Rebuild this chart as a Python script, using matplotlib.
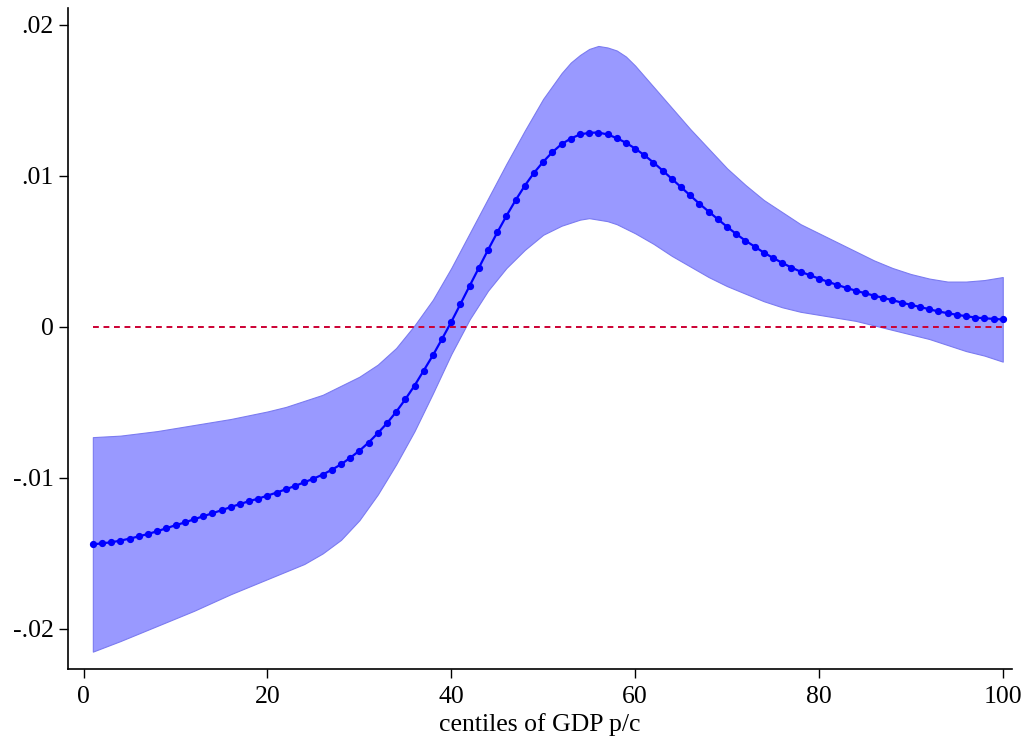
import matplotlib
matplotlib.use("Agg")
import matplotlib.pyplot as plt
import numpy as np

# marginal effect by GDP p/c centile
centiles = np.arange(1, 101)
effect = [
    -0.01440, -0.01433, -0.01426, -0.01415, -0.01402, -0.01387, -0.01371, -0.01353, -0.01333, -0.01313,
    -0.01295, -0.01274, -0.01254, -0.01234, -0.01214, -0.01193, -0.01173, -0.01154, -0.01137, -0.01117,
    -0.01097, -0.01075, -0.01053, -0.01029, -0.01005, -0.00978, -0.00946, -0.00910, -0.00867, -0.00820,
    -0.00766, -0.00704, -0.00638, -0.00563, -0.00479, -0.00389, -0.00289, -0.00188, -0.00079, 0.00033,
    0.00152, 0.00272, 0.00391, 0.00510, 0.00625, 0.00735, 0.00839, 0.00935, 0.01020, 0.01093,
    0.01157, 0.01210, 0.01247, 0.01274, 0.01285, 0.01287, 0.01274, 0.01250, 0.01219, 0.01181,
    0.01137, 0.01088, 0.01035, 0.00980, 0.00925, 0.00870, 0.00815, 0.00764, 0.00713, 0.00663,
    0.00615, 0.00571, 0.00532, 0.00492, 0.00457, 0.00424, 0.00393, 0.00366, 0.00342, 0.00320,
    0.00298, 0.00278, 0.00258, 0.00240, 0.00223, 0.00207, 0.00192, 0.00177, 0.00161, 0.00146,
    0.00132, 0.00117, 0.00102, 0.00091, 0.00080, 0.00071, 0.00062, 0.00057, 0.00053, 0.00049,
]

# confidence band
band_x = [1, 4, 8, 12, 16, 20, 22, 24, 26, 28, 30, 32, 34, 36, 38, 40, 42, 44, 46, 48, 50,
          52, 53, 54, 55, 56, 57, 58, 59, 60, 62, 64, 66, 68, 70, 72, 74, 76, 78, 80, 82, 84,
          86, 88, 90, 92, 94, 96, 98, 100]
band_hi = [-0.0073, -0.0072, -0.0069, -0.0065, -0.0061, -0.0056, -0.0053, -0.0049, -0.0045, -0.0039,
           -0.0033, -0.0025, -0.0014, 0.0001, 0.0018, 0.0039, 0.0062, 0.0085, 0.0108, 0.0130,
           0.0151, 0.0168, 0.0175, 0.0180, 0.0184, 0.0186, 0.0185, 0.0183, 0.0179, 0.0173,
           0.0159, 0.0145, 0.0131, 0.0118, 0.0105, 0.0094, 0.0084, 0.0076, 0.0068, 0.0062,
           0.0056, 0.0050, 0.0044, 0.0039, 0.0035, 0.0032, 0.0030, 0.0030, 0.0031, 0.0033]
band_lo = [-0.0215, -0.0208, -0.0198, -0.0188, -0.0177, -0.0167, -0.0162, -0.0157, -0.0150, -0.0141,
           -0.0128, -0.0111, -0.0091, -0.0069, -0.0044, -0.0018, 0.0005, 0.0024, 0.0039, 0.0051,
           0.0061, 0.0067, 0.0069, 0.0071, 0.0072, 0.0071, 0.0070, 0.0068, 0.0065, 0.0062,
           0.0055, 0.0047, 0.0040, 0.0033, 0.0027, 0.0022, 0.0017, 0.0013, 0.0010, 0.0008,
           0.0006, 0.0004, 0.0001, -0.0002, -0.0005, -0.0008, -0.0012, -0.0016, -0.0019, -0.0023]

xticks = [0, 20, 40, 60, 80, 100]
yticks = [-0.02, -0.01, 0, 0.01, 0.02]
ytick_labels = ["-.02", "-.01", "0", ".01", ".02"]

plt.rcParams["font.family"] = ["Liberation Serif", "DejaVu Serif"]

fig = plt.figure(figsize=(10.26, 7.38), dpi=100)
ax = fig.add_axes([0.0663, 0.0935, 0.92, 0.896])

ax.fill_between(band_x, band_lo, band_hi, facecolor="#9999ff", edgecolor="#7b7bf0", linewidth=0.8)
ax.plot([centiles[0], centiles[-1]], [0, 0], color="#cc0033", linestyle=(0, (3, 2.4)), linewidth=1.4)
ax.plot(centiles, effect, color="#0000ff", linewidth=1.6, marker="o", markersize=4.2)

ax.set_xlim(-1.7, 101)
ax.set_ylim(-0.02265, 0.02113)
ax.set_xticks(xticks)
ax.set_yticks(yticks)
ax.set_yticklabels(ytick_labels)
ax.tick_params(axis="both", direction="out", length=6.5, width=1, labelsize=18.5, pad=4)
ax.tick_params(axis="x", pad=6)
ax.set_xlabel("centiles of GDP p/c", fontsize=18.5, labelpad=3)

for side in ["top", "right"]:
    ax.spines[side].set_visible(False)
for side in ["left", "bottom"]:
    ax.spines[side].set_linewidth(1.2)

fig.savefig("out.png", dpi=100)
